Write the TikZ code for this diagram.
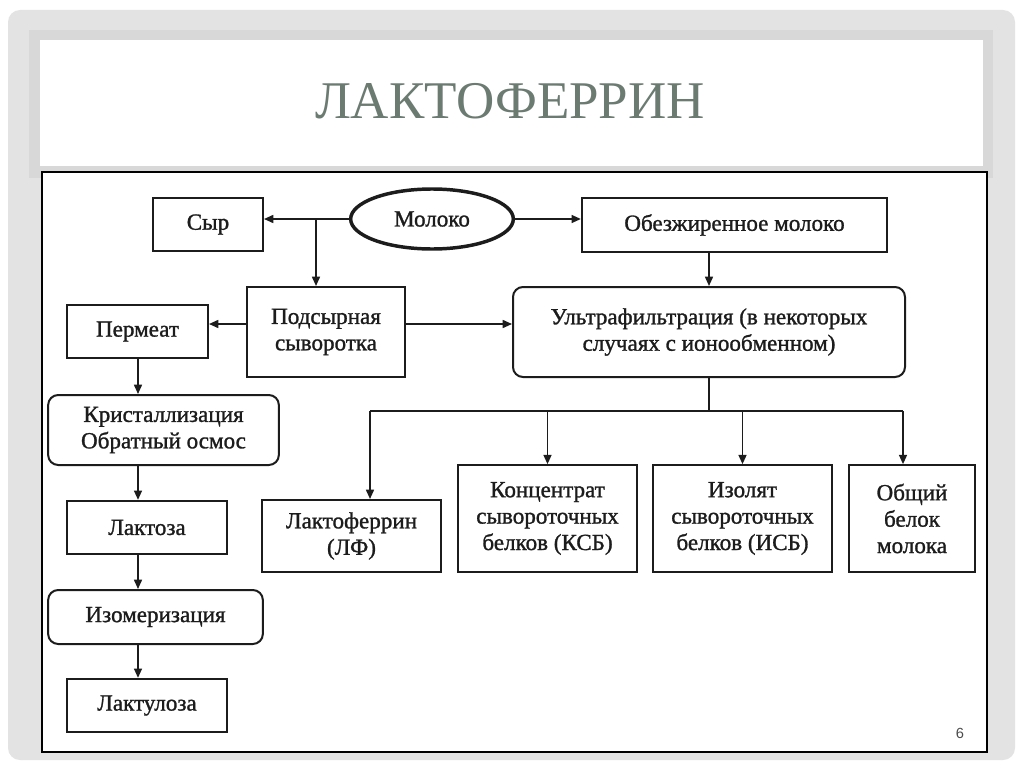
\documentclass[tikz,border=0pt]{standalone}
\usepackage{fontspec}
\setmainfont[FakeBold=1.2]{Liberation Serif}
\newfontfamily\titlefont{Liberation Serif}
\newfontfamily\numfont{Liberation Sans}
\usetikzlibrary{arrows.meta,shapes.geometric}
\definecolor{framegray}{HTML}{E3E3E3}
\definecolor{bandgray}{HTML}{D8D8D8}
\definecolor{titlecol}{HTML}{6B7B72}
\definecolor{inkcol}{HTML}{1C1C1C}
\begin{document}
\begin{tikzpicture}[x=0.75pt,y=-0.75pt,
  stepbox/.style={draw=inkcol,line width=1.5pt,inner sep=0pt,align=center,
    text=inkcol,font=\fontsize{17.3}{19.8}\selectfont},
  roundbox/.style={stepbox,rounded corners=7.5pt},
  arr/.style={draw=inkcol,line width=1.2pt,-{Triangle[length=7pt,width=6pt]}},
  ln/.style={draw=inkcol,line width=1.2pt}]
\useasboundingbox (0,0) rectangle (1024,767);
\fill[white] (0,0) rectangle (1024,767);
\fill[framegray,rounded corners=9pt] (8,10) rectangle (1015,760);
\fill[bandgray] (29,30) rectangle (993,178);
\fill[white] (40,40) rectangle (983,166);
\filldraw[fill=white,draw=black,line width=1.1pt] (42,172) rectangle (987,752);
\node[anchor=base,text=titlecol,font=\titlefont\fontsize{39.75}{42}\selectfont] (title) at (510,118) {ЛАКТОФЕРРИН};
\node[anchor=base,text=black!70,font=\numfont\fontsize{11}{13}\selectfont] (pnum) at (960,738) {6};

% nodes
\node[ellipse,draw=inkcol,line width=2.6pt,minimum width=122pt,minimum height=45pt,inner sep=0pt,text=inkcol,font=\fontsize{17.3}{19.8}\selectfont] (moloko) at (432,219) {Молоко};
\node[stepbox,minimum width=82.5pt,minimum height=40pt] (syr) at (208,224.5) {Сыр};
\node[stepbox,minimum width=229pt,minimum height=40.5pt] (obez) at (734.5,225) {Обезжиренное молоко};
\node[stepbox,minimum width=118.5pt,minimum height=67.5pt] (podsyr) at (326,332) {Подсырная\\сыворотка};
\node[roundbox,minimum width=294pt,minimum height=67.5pt] (ultra) at (709,332) {Ультрафильтрация (в некоторых\\случаях с ионообменном)};
\node[stepbox,minimum width=105.75pt,minimum height=40pt] (perm) at (137.5,331.5) {Пермеат};
\node[roundbox,minimum width=173pt,minimum height=52.5pt] (kryst) at (163.5,430) {Кристаллизация\\Обратный осмос};
\node[stepbox,minimum width=120pt,minimum height=40pt] (laktoza) at (147,527.5) {Лактоза};
\node[roundbox,minimum width=161pt,minimum height=40.5pt] (izomer) at (155.5,617) {Изомеризация};
\node[stepbox,minimum width=120pt,minimum height=40pt] (laktuloza) at (147,705.5) {Лактулоза};
\node[stepbox,minimum width=134pt,minimum height=54pt] (lf) at (351.5,536) {Лактоферрин\\(ЛФ)};
\node[stepbox,minimum width=134pt,minimum height=80pt] (ksb) at (547.5,518.5) {Концентрат\\сывороточных\\белков (КСБ)};
\node[stepbox,minimum width=134pt,minimum height=80pt] (isb) at (742.5,518.5) {Изолят\\сывороточных\\белков (ИСБ)};
\node[stepbox,minimum width=94.5pt,minimum height=80pt] (obsh) at (912,518.5) {Общий\\белок\\молока};

% helper coordinates
\coordinate (j1) at (316,219);
\coordinate (h2) at (0,324);
\coordinate (vx) at (138,0);
\coordinate (hl) at (370,411);
\coordinate (hr) at (903,411);

% connectors
\draw[arr] (moloko.west) -- (syr.east |- moloko.west);
\draw[arr] (j1) -- (j1 |- podsyr.north);
\draw[arr] (moloko.east) -- (obez.west |- moloko.east);
\draw[arr] (ultra.north |- obez.south) -- (ultra.north);
\draw[arr] (podsyr.east |- h2) -- (ultra.west |- h2);
\draw[arr] (podsyr.west |- h2) -- (perm.east |- h2);
\draw[arr] (vx |- perm.south) -- (vx |- kryst.north);
\draw[arr] (vx |- kryst.south) -- (vx |- laktoza.north);
\draw[arr] (vx |- laktoza.south) -- (vx |- izomer.north);
\draw[arr] (vx |- izomer.south) -- (vx |- laktuloza.north);
\draw[ln] (ultra.south) -- (ultra.south |- hl);
\draw[ln] (hl) -- (hr);
\draw[arr] (hl) -- (hl |- lf.north);
\draw[arr] (ksb.north |- hl) -- (ksb.north);
\draw[arr] (isb.north |- hl) -- (isb.north);
\draw[arr] (hr) -- (hr |- obsh.north);
\end{tikzpicture}
\end{document}
